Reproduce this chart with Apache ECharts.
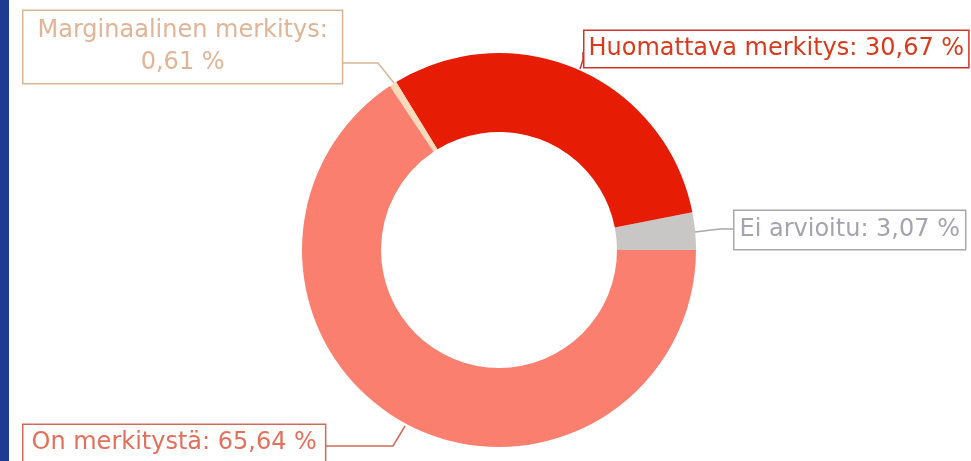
<!DOCTYPE html>
<html>
<head>
<meta charset="utf-8">
<script src="https://cdn.jsdelivr.net/npm/echarts@6/dist/echarts.min.js"></script>
<style>
html,body{margin:0;padding:0;background:#fff;}
#chart{width:971px;height:461px;}
</style>
</head>
<body>
<div id="chart"></div>
<script>
// ---- data ----
var categories = ['Ei arvioitu', 'Huomattava merkitys', 'Marginaalinen merkitys', 'On merkitystä'];
var percents = [3.07, 30.67, 0.61, 65.64];
var sliceColors = ['#c9c7c6', '#e61c05', '#fcd9b8', '#fa7f6f'];
var labelTextColors = ['#a4a4b0', '#d83a1e', '#e0b496', '#e2705c'];
var labelBorderColors = ['#a8a8a8', '#d03428', '#d9b593', '#d06a58'];

// ---- layout (label boxes: top-left corner, padding, and leader line points) ----
var labelPos = [
  {x: 733, y: 211, pad: [3, 5, 3, 5],   line: [[695, 232], [720, 229], [733, 229]]},
  {x: 583, y: 31,  pad: [2, 4, 2, 4],   line: [[580, 69], [583, 60], [583, 52]]},
  {x: 22,  y: 11,  pad: [4, 14, 4, 14], line: [[394, 83], [378, 63], [343, 63]]},
  {x: 22,  y: 425, pad: [2, 8, 2, 8],   line: [[405, 426], [393, 446], [325, 446]]}
];

function fmt(v) { return v.toFixed(2).replace('.', ','); }

var data = categories.map(function (name, i) {
  return {
    name: name,
    value: percents[i],
    itemStyle: {color: sliceColors[i]},
    label: {
      color: labelTextColors[i],
      borderColor: labelBorderColors[i],
      padding: labelPos[i].pad
    },
    labelLine: {lineStyle: {color: labelBorderColors[i]}}
  };
});

var chart = echarts.init(document.getElementById('chart'), null, {renderer: 'canvas'});
chart.setOption({
  backgroundColor: '#ffffff',
  animation: false,
  graphic: [{
    type: 'rect', left: 0, top: 0,
    shape: {width: 9, height: 461},
    style: {fill: '#1f3a93'}
  }],
  series: [{
    type: 'pie',
    center: [499, 250],
    radius: [118, 197],
    startAngle: 0,
    clockwise: false,
    avoidLabelOverlap: false,
    itemStyle: {borderWidth: 0},
    label: {
      show: true,
      position: 'outside',
      fontFamily: '"DejaVu Sans", sans-serif',
      fontSize: 24,
      lineHeight: 32,
      align: 'center',
      backgroundColor: '#ffffff',
      borderWidth: 1.5,
      formatter: function (p) {
        var sep = p.dataIndex === 2 ? ':\n' : ': ';
        return p.name + sep + fmt(p.value) + ' %';
      }
    },
    labelLine: {show: true, length: 10, length2: 10, lineStyle: {width: 1.5}},
    labelLayout: function (params) {
      var lp = labelPos[params.dataIndex];
      return {
        x: lp.x + params.labelRect.width / 2,
        y: lp.y,
        align: 'center',
        verticalAlign: 'top',
        labelLinePoints: lp.line
      };
    },
    data: data
  }]
});
</script>
</body>
</html>
